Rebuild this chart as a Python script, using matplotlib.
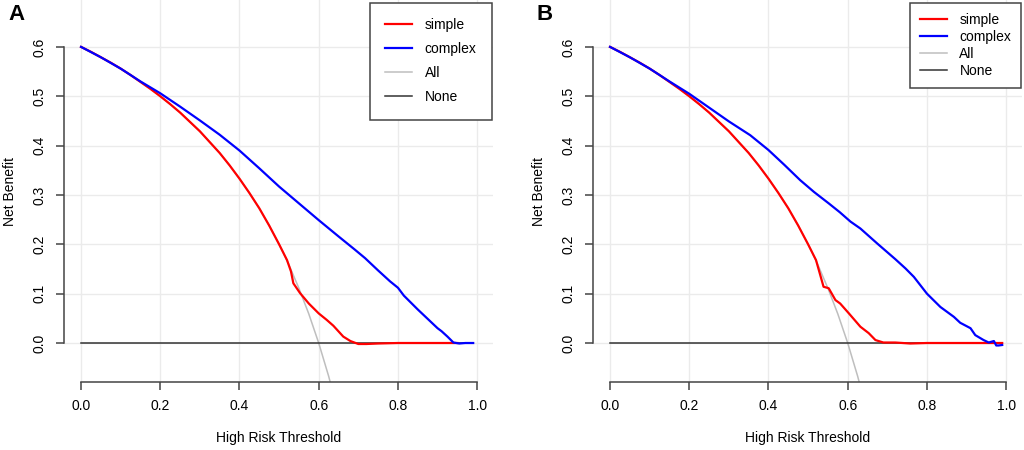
import matplotlib
matplotlib.use("Agg")
import matplotlib.pyplot as plt

plt.rcParams['font.family'] = ['Liberation Sans', 'DejaVu Sans']

# "All" reference line (treat everyone), prevalence about 0.6
all_t = [0, 0.025, 0.05, 0.075, 0.1, 0.125, 0.15, 0.175, 0.2, 0.225, 0.25,
         0.275, 0.3, 0.325, 0.35, 0.375, 0.4, 0.425, 0.45, 0.475, 0.5, 0.51,
         0.525, 0.55, 0.575, 0.6, 0.625, 0.65]
all_nb = [0.6, 0.590, 0.579, 0.568, 0.556, 0.543, 0.529, 0.515, 0.5, 0.484,
          0.467, 0.448, 0.429, 0.407, 0.385, 0.36, 0.333, 0.304, 0.273, 0.238,
          0.2, 0.184, 0.158, 0.111, 0.059, 0.0, -0.067, -0.143]

none_t = [0, 0.99]
none_nb = [0, 0]

# panel A
a_simple_t = [0, 0.025, 0.05, 0.075, 0.1, 0.125, 0.15, 0.175, 0.2, 0.225, 0.25,
              0.275, 0.3, 0.325, 0.35, 0.375, 0.4, 0.425, 0.45, 0.475, 0.5,
              0.51, 0.52, 0.53, 0.536, 0.553, 0.575, 0.6, 0.62, 0.637, 0.662,
              0.68, 0.70, 0.72, 0.75, 0.8, 0.9, 0.95]
a_simple_nb = [0.6, 0.590, 0.579, 0.568, 0.556, 0.543, 0.529, 0.515, 0.5,
               0.484, 0.467, 0.448, 0.429, 0.407, 0.385, 0.36, 0.333, 0.304,
               0.273, 0.238, 0.2, 0.184, 0.168, 0.145, 0.121, 0.101, 0.08, 0.06,
               0.047, 0.035, 0.013, 0.004, -0.002, -0.002, -0.001, 0.0, 0.0, 0.0]
a_complex_t = [0, 0.05, 0.1, 0.15, 0.2, 0.25, 0.3, 0.35, 0.4, 0.45, 0.5, 0.55,
               0.6, 0.65, 0.69, 0.717, 0.75, 0.78, 0.8, 0.815, 0.85, 0.875,
               0.9, 0.91, 0.925, 0.94, 0.955, 0.97, 0.99]
a_complex_nb = [0.6, 0.579, 0.556, 0.530, 0.506, 0.479, 0.451, 0.422, 0.390,
                0.354, 0.317, 0.283, 0.249, 0.216, 0.190, 0.172, 0.147, 0.125,
                0.112, 0.096, 0.068, 0.049, 0.030, 0.024, 0.013, 0.001, -0.001,
                0.0, 0.0]

# panel B
b_simple_t = [0, 0.025, 0.05, 0.075, 0.1, 0.125, 0.15, 0.175, 0.2, 0.225, 0.25,
              0.275, 0.3, 0.325, 0.35, 0.375, 0.4, 0.425, 0.45, 0.475, 0.5,
              0.51, 0.52, 0.539, 0.552, 0.569, 0.581, 0.603, 0.632, 0.653,
              0.67, 0.69, 0.72, 0.758, 0.8, 0.9, 0.99]
b_simple_nb = [0.6, 0.590, 0.579, 0.568, 0.556, 0.543, 0.529, 0.515, 0.5,
               0.484, 0.467, 0.448, 0.429, 0.407, 0.385, 0.36, 0.333, 0.304,
               0.273, 0.238, 0.2, 0.184, 0.168, 0.114, 0.111, 0.087, 0.080,
               0.060, 0.033, 0.020, 0.006, 0.001, 0.001, -0.001, 0.0, 0.0, 0.0]
b_complex_t = [0, 0.05, 0.1, 0.15, 0.2, 0.25, 0.3, 0.354, 0.4, 0.44, 0.48,
               0.515, 0.552, 0.58, 0.607, 0.632, 0.674, 0.72, 0.746, 0.767, 0.8,
               0.834, 0.868, 0.884, 0.91, 0.922, 0.943, 0.956, 0.969, 0.975,
               0.981, 0.99]
b_complex_nb = [0.6, 0.579, 0.556, 0.530, 0.505, 0.477, 0.449, 0.421, 0.391,
                0.361, 0.330, 0.306, 0.283, 0.265, 0.246, 0.232, 0.202, 0.170,
                0.151, 0.134, 0.10, 0.073, 0.053, 0.041, 0.030, 0.016, 0.006,
                0.001, 0.004, -0.005, -0.005, -0.004]

xticks = [0.0, 0.2, 0.4, 0.6, 0.8, 1.0]
yticks = [0.0, 0.1, 0.2, 0.3, 0.4, 0.5, 0.6]

W, H = 1024, 450
fig = plt.figure(figsize=(W / 100, H / 100), dpi=100)

panels = [
    ("A", 64, a_simple_t, a_simple_nb, a_complex_t, a_complex_nb, 492, 1.1, 0.72),
    ("B", 593, b_simple_t, b_simple_nb, b_complex_t, b_complex_nb, 1021, 0.7, 0.22),
]

axcol = '#444444'
for letter, left, st, snb, ct, cnb, leg_right, bpad, lspace in panels:
    ax = fig.add_axes([left / W, 1 - 382 / H, 429 / W, 382 / H])
    ax.set_xlim(-0.043, 1.04)
    ax.set_ylim(-0.079, 0.695)
    ax.set_xticks(xticks)
    ax.set_yticks(yticks)
    ax.set_xticklabels(["%.1f" % v for v in xticks])
    ax.set_yticklabels(["%.1f" % v for v in yticks], rotation=90, va='center')
    ax.grid(True, color='#ebebeb', lw=1)
    ax.set_axisbelow(True)
    for s in ['top', 'right']:
        ax.spines[s].set_visible(False)
    ax.spines['left'].set_bounds(0, 0.6)
    ax.spines['bottom'].set_bounds(0, 1.0)
    for s in ['left', 'bottom']:
        ax.spines[s].set_color(axcol)
        ax.spines[s].set_linewidth(1.1)
    ax.tick_params(direction='out', length=6, width=1.1, color=axcol,
                   labelsize=10, pad=6.5)

    ax.plot(all_t, all_nb, color='#bebebe', lw=1.1, label='All')
    ax.plot(none_t, none_nb, color='#333333', lw=1.1, label='None')
    ax.plot(st, snb, color='#ff0000', lw=1.6, label='simple')
    ax.plot(ct, cnb, color='#0000ff', lw=1.6, label='complex')

    ax.set_xlabel("High Risk Threshold", fontsize=10, labelpad=13)
    ax.set_ylabel("Net Benefit", fontsize=10, labelpad=11)

    h, l = ax.get_legend_handles_labels()
    order = [2, 3, 0, 1]
    leg = ax.legend([h[i] for i in order], [l[i] for i in order],
                    loc='upper right',
                    bbox_to_anchor=(leg_right / W, 1 - 3 / H),
                    bbox_transform=fig.transFigure,
                    fontsize=10, frameon=True, fancybox=False, shadow=False,
                    borderpad=bpad, labelspacing=lspace, handlelength=1.95,
                    handletextpad=0.9, borderaxespad=0)
    leg.get_frame().set_edgecolor(axcol)
    leg.get_frame().set_linewidth(1.1)
    leg.get_frame().set_alpha(1)

    fig.text((left - 56) / W, 1 - 14 / H, letter, fontsize=16,
             fontweight='bold', va='center', ha='left')

fig.savefig("out.png", dpi=100)
